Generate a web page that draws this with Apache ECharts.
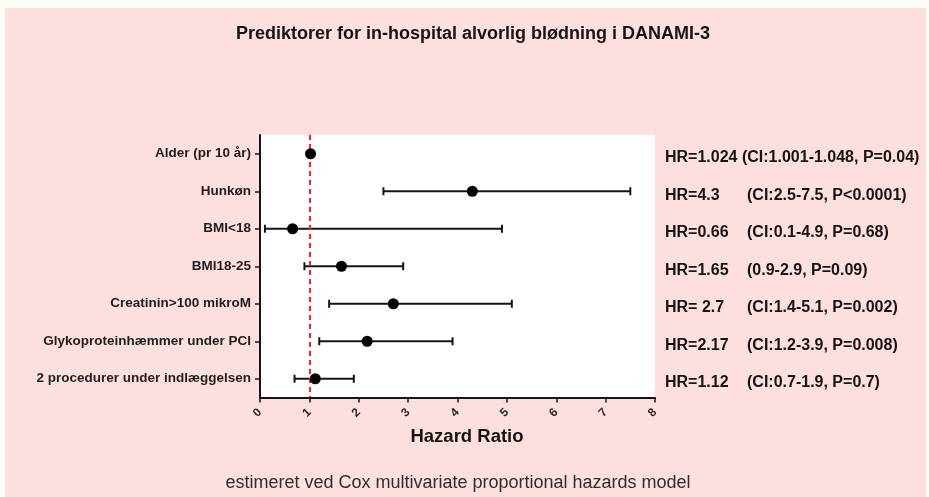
<!DOCTYPE html>
<html>
<head>
<meta charset="utf-8">
<script src="https://cdn.jsdelivr.net/npm/echarts@6/dist/echarts.min.js"></script>
<style>
  html, body { margin: 0; padding: 0; background: #fbfcf5; }
  #chart { width: 929px; height: 497px; }
</style>
</head>
<body>
<div id="chart"></div>
<script>
// Predictors, hazard ratios and 95% confidence intervals
const categories = [
  'Alder (pr 10 år)',
  'Hunkøn',
  'BMI<18',
  'BMI18-25',
  'Creatinin>100 mikroM',
  'Glykoproteinhæmmer under PCI',
  '2 procedurer under indlæggelsen'
];
const hazardRatio = [1.024, 4.3, 0.66, 1.65, 2.7, 2.17, 1.12];
const ciLow  = [1.001, 2.5, 0.1, 0.9, 1.4, 1.2, 0.7];
const ciHigh = [1.048, 7.5, 4.9, 2.9, 5.1, 3.9, 1.9];

// Text printed to the right of each row
const hrLabels = [
  'HR=1.024 (CI:1.001-1.048, P=0.04)',
  'HR=4.3',
  'HR=0.66',
  'HR=1.65',
  'HR= 2.7',
  'HR=2.17',
  'HR=1.12'
];
const ciLabels = [
  '',
  '(CI:2.5-7.5, P<0.0001)',
  '(CI:0.1-4.9, P=0.68)',
  '(0.9-2.9, P=0.09)',
  '(CI:1.4-5.1, P=0.002)',
  '(CI:1.2-3.9, P=0.008)',
  '(CI:0.7-1.9, P=0.7)'
];

const xTicks = [0, 1, 2, 3, 4, 5, 6, 7, 8];
const referenceLine = 1;

const FONT = '"Liberation Sans", Arial, Helvetica, sans-serif';
const INK = '#141414';

const chart = echarts.init(document.getElementById('chart'), null, { renderer: 'canvas' });

const option = {
  animation: false,
  backgroundColor: '#fddfe0',
  graphic: [
    { type: 'rect', shape: { x: 0, y: 0, width: 929, height: 8 }, style: { fill: '#fbfcf5' }, silent: true },
    { type: 'rect', shape: { x: 0, y: 0, width: 5, height: 497 }, style: { fill: '#fbfcf5' }, silent: true },
    { type: 'rect', shape: { x: 926, y: 0, width: 3, height: 497 }, style: { fill: '#fbfcf5' }, silent: true },
    {
      type: 'text', x: 473, y: 34,
      style: {
        text: 'Prediktorer for in-hospital alvorlig blødning i DANAMI-3',
        font: 'bold 18px ' + FONT, fill: INK, align: 'center', verticalAlign: 'middle'
      },
      silent: true
    },
    {
      type: 'text', x: 458, y: 483,
      style: {
        text: 'estimeret ved Cox multivariate proportional hazards model',
        font: '18px ' + FONT, fill: '#2e2e2e', align: 'center', verticalAlign: 'middle'
      },
      silent: true
    }
  ],
  grid: {
    left: 260, top: 135, width: 395, height: 262.5,
    show: true, backgroundColor: '#ffffff', borderWidth: 0
  },
  xAxis: {
    type: 'value',
    min: xTicks[0], max: xTicks[xTicks.length - 1], interval: 1,
    name: 'Hazard Ratio',
    nameLocation: 'middle',
    nameGap: 30,
    nameTextStyle: {
      fontFamily: FONT, fontWeight: 'bold', fontSize: 18.5, color: INK,
      padding: [0, 0, 0, 19]
    },
    axisLine: { show: true, lineStyle: { color: INK, width: 2 } },
    axisTick: { show: true, inside: false, length: 5, lineStyle: { color: INK, width: 1.5 } },
    axisLabel: {
      rotate: 45, margin: 13, fontFamily: FONT, fontWeight: 'bold', fontSize: 12, color: '#2a2a2a'
    },
    splitLine: { show: false }
  },
  yAxis: {
    type: 'category',
    data: categories,
    inverse: true,
    axisLine: { show: true, lineStyle: { color: INK, width: 2 } },
    axisTick: { show: true, alignWithLabel: true, length: 5, lineStyle: { color: INK, width: 1.5 } },
    axisLabel: { margin: 9, fontFamily: FONT, fontWeight: 'bold', fontSize: 13.5, color: '#1e1e1e' },
    splitLine: { show: false }
  },
  series: [
    {
      // confidence interval whiskers with end caps
      type: 'custom',
      encode: { x: [0, 1], y: 2 },
      data: categories.map((c, i) => [ciLow[i], ciHigh[i], i]),
      renderItem: function (params, api) {
        const a = api.coord([api.value(0), api.value(2)]);
        const b = api.coord([api.value(1), api.value(2)]);
        const cap = 4;
        const st = { stroke: INK, lineWidth: 2 };
        return {
          type: 'group',
          children: [
            { type: 'line', shape: { x1: a[0], y1: a[1], x2: b[0], y2: b[1] }, style: st },
            { type: 'line', shape: { x1: a[0], y1: a[1] - cap, x2: a[0], y2: a[1] + cap }, style: st },
            { type: 'line', shape: { x1: b[0], y1: b[1] - cap, x2: b[0], y2: b[1] + cap }, style: st }
          ]
        };
      },
      z: 2
    },
    {
      // point estimates
      type: 'scatter',
      data: hazardRatio.map((v, i) => [v, i]),
      symbol: 'circle',
      symbolSize: 11,
      itemStyle: { color: '#000', opacity: 1 },
      z: 4,
      markLine: {
        silent: true,
        symbol: 'none',
        label: { show: false },
        lineStyle: { color: '#ff1f1f', type: [5, 4], width: 2, opacity: 1 },
        data: [{ xAxis: referenceLine }],
        z: 3
      }
    },
    {
      // HR / CI text column on the right
      type: 'scatter',
      clip: false,
      data: categories.map((c, i) => [xTicks[xTicks.length - 1], i]),
      symbolSize: 0,
      silent: true,
      itemStyle: { opacity: 1 },
      label: {
        show: true,
        position: 'right',
        distance: 10,
        offset: [0, 4],
        formatter: function (p) {
          const i = p.dataIndex;
          return ciLabels[i]
            ? '{a|' + hrLabels[i] + '}{b|' + ciLabels[i] + '}'
            : '{b|' + hrLabels[i] + '}';
        },
        rich: {
          a: { width: 82, fontFamily: FONT, fontWeight: 'bold', fontSize: 16, color: INK },
          b: { fontFamily: FONT, fontWeight: 'bold', fontSize: 16, color: INK }
        }
      }
    }
  ]
};

chart.setOption(option);
</script>
</body>
</html>
